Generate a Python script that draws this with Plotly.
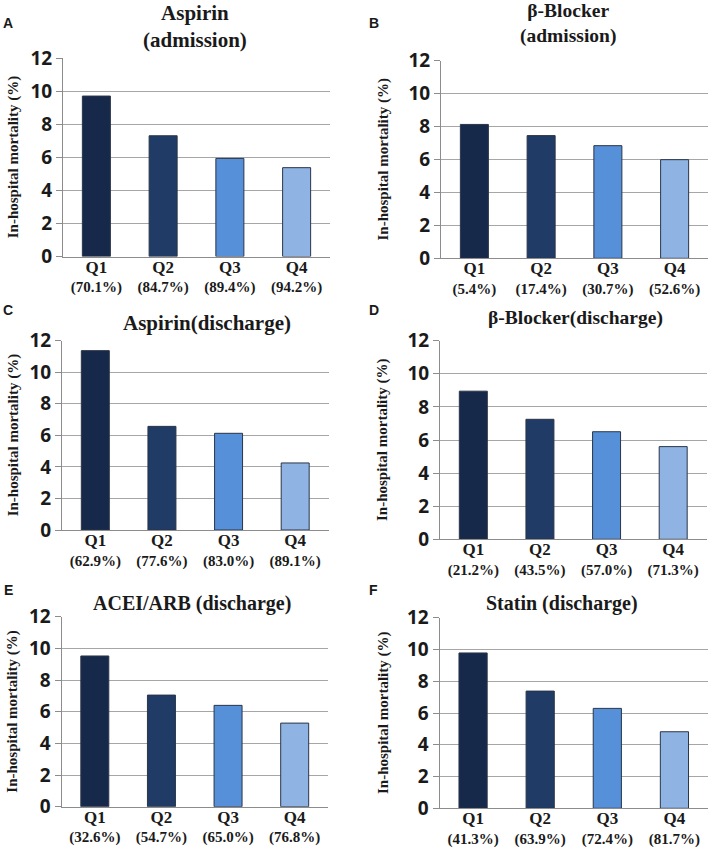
import plotly.graph_objects as go

W, H = 709, 848

quartiles = ["Q1", "Q2", "Q3", "Q4"]

aspirin_adm_values = [9.70, 7.30, 5.93, 5.37]
aspirin_adm_pcts = ["70.1%", "84.7%", "89.4%", "94.2%"]
bblocker_adm_values = [8.13, 7.45, 6.84, 5.99]
bblocker_adm_pcts = ["5.4%", "17.4%", "30.7%", "52.6%"]
aspirin_dis_values = [11.37, 6.57, 6.13, 4.25]
aspirin_dis_pcts = ["62.9%", "77.6%", "83.0%", "89.1%"]
bblocker_dis_values = [8.95, 7.25, 6.50, 5.60]
bblocker_dis_pcts = ["21.2%", "43.5%", "57.0%", "71.3%"]
acei_dis_values = [9.52, 7.05, 6.40, 5.28]
acei_dis_pcts = ["32.6%", "54.7%", "65.0%", "76.8%"]
statin_dis_values = [9.78, 7.38, 6.29, 4.82]
statin_dis_pcts = ["41.3%", "63.9%", "72.4%", "81.7%"]

y_tick_values = [0, 2, 4, 6, 8, 10, 12]
y_title = "In-hospital mortality (%)"

panel_letters = ["A", "B", "C", "D", "E", "F"]
panel_titles = ["Aspirin<br>(admission)", "β-Blocker<br>(admission)",
                "Aspirin(discharge)", "β-Blocker(discharge)",
                "ACEI/ARB (discharge)", "Statin (discharge)"]
panel_values = [aspirin_adm_values, bblocker_adm_values, aspirin_dis_values,
                bblocker_dis_values, acei_dis_values, statin_dis_values]
panel_pcts = [aspirin_adm_pcts, bblocker_adm_pcts, aspirin_dis_pcts,
              bblocker_dis_pcts, acei_dis_pcts, statin_dis_pcts]

bar_colors = ["#17294a", "#1f3b66", "#5590d8", "#8fb4e3"]

# pixel boxes: x0, x1, ytop, ybottom
boxes = [
    (63, 330, 58, 256.5),
    (441, 708, 60.7, 258.3),
    (62, 328.5, 340.7, 530),
    (440, 706.5, 340.7, 539.3),
    (61.5, 328, 616.7, 806.7),
    (439.5, 708, 617.7, 808.3),
]
# title (center x, center y, font size)
title_pos = [(195, 26, 21), (568, 23.5, 19.5), (207, 323, 21),
             (575, 318, 19.5), (192, 603, 20), (562, 603, 20)]
letter_pos = [(8, 23), (374, 23), (8, 310), (374, 310), (8, 590), (374, 590)]
ytitle_x = [13, 383, 13, 382, 13, 383]

serif = "Liberation Serif, Times New Roman, serif"
sans = "Open Sans, Arial, sans-serif"

fig = go.Figure()
annotations = []

for i in range(6):
    n = i + 1
    xa = "x" if n == 1 else f"x{n}"
    ya = "y" if n == 1 else f"y{n}"
    x0, x1, yt, yb = boxes[i]
    fig.add_trace(go.Bar(
        x=quartiles, y=panel_values[i], xaxis=xa, yaxis=ya,
        width=0.42,
        marker=dict(color=bar_colors, line=dict(color="#2a3548", width=1)),
        showlegend=False, hoverinfo="x+y",
    ))
    ticktext = [f"<span style='font-size:17px'><b>{q}</b></span><br><b>({p})</b>"
                for q, p in zip(quartiles, panel_pcts[i])]
    xkey = "xaxis" if n == 1 else f"xaxis{n}"
    ykey = "yaxis" if n == 1 else f"yaxis{n}"
    fig.layout[xkey] = dict(
        domain=[x0 / W, x1 / W], anchor=ya,
        range=[-0.5, 3.5], tickmode="array",
        tickvals=quartiles, ticktext=ticktext,
        tickfont=dict(family=serif, size=15, color="#1a1a1a"),
        ticklabelstandoff=-3,
        showline=True, linecolor="#8c8c8c", linewidth=1,
        ticks="", showgrid=False, zeroline=False, automargin=False,
        fixedrange=True,
    )
    fig.layout[ykey] = dict(
        domain=[1 - yb / H, 1 - yt / H], anchor=xa,
        range=[0, 12], tickmode="array", tickvals=y_tick_values,
        tickfont=dict(family=sans, size=19, color="#1a1a1a", weight="bold"),
        showline=True, linecolor="#8c8c8c", linewidth=1,
        ticks="outside", ticklen=6, tickcolor="#8c8c8c",
        showgrid=True, gridcolor="#a6a6a6", gridwidth=1,
        zeroline=False, automargin=False, fixedrange=True,
    )
    cx, cy, fs = title_pos[i]
    annotations.append(dict(
        text=f"<b>{panel_titles[i]}</b>", x=cx / W, y=1 - cy / H,
        xref="paper", yref="paper", xanchor="center", yanchor="middle",
        showarrow=False, font=dict(family=serif, size=fs, color="#1a1a1a"),
    ))
    lx, ly = letter_pos[i]
    annotations.append(dict(
        text=f"<b>{panel_letters[i]}</b>", x=lx / W, y=1 - ly / H,
        xref="paper", yref="paper", xanchor="center", yanchor="middle",
        showarrow=False, font=dict(family="Liberation Sans, Arial, sans-serif", size=14, color="#1a1a1a"),
    ))
    annotations.append(dict(
        text=f"<b>{y_title}</b>", x=ytitle_x[i] / W, y=1 - (yt + yb) / 2 / H,
        xref="paper", yref="paper", xanchor="center", yanchor="middle",
        textangle=-90, showarrow=False,
        font=dict(family=serif, size=15, color="#1a1a1a"),
    ))

fig.update_layout(
    width=W, height=H,
    margin=dict(l=0, r=0, t=0, b=0),
    paper_bgcolor="white", plot_bgcolor="white",
    annotations=annotations,
    bargap=0.58,
)

fig.write_html(
    "out.html",
    config={"displayModeBar": False},
    post_script="document.body.style.margin='0';document.body.style.overflow='hidden';",
)
